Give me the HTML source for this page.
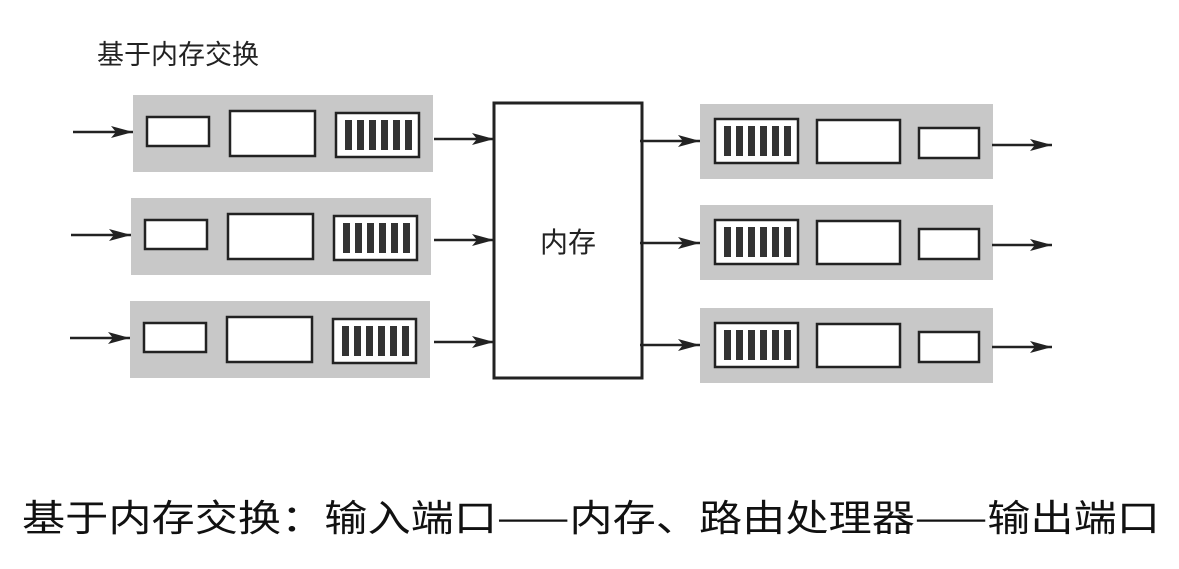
<!DOCTYPE html>
<html><head><meta charset="utf-8"><style>
body{margin:0;width:1179px;height:564px;background:#fff;overflow:hidden;font-family:"Liberation Sans","Noto Sans CJK SC",sans-serif}
</style></head><body>
<svg width="1179" height="564" viewBox="0 0 1179 564" xmlns="http://www.w3.org/2000/svg">
<defs>
<g id="q"><rect x="0" y="0" width="83" height="44" fill="#fff" stroke="#222" stroke-width="2.5"/>
<rect x="9" y="7" width="7" height="30" fill="#333"/><rect x="21" y="7" width="7" height="30" fill="#333"/><rect x="33" y="7" width="7" height="30" fill="#333"/><rect x="45" y="7" width="7" height="30" fill="#333"/><rect x="57" y="7" width="7" height="30" fill="#333"/><rect x="69" y="7" width="7" height="30" fill="#333"/></g>
<g id="L"><rect x="0" y="0" width="300" height="77" fill="#c8c8c8"/>
<rect x="14" y="22" width="62" height="29" fill="#fff" stroke="#222" stroke-width="2.5"/>
<rect x="97" y="16" width="85" height="45" fill="#fff" stroke="#222" stroke-width="2.5"/>
<use href="#q" x="203" y="18"/></g>
<g id="R"><rect x="0" y="0" width="293" height="75" fill="#c8c8c8"/>
<use href="#q" x="15" y="15"/>
<rect x="117" y="16" width="83" height="43" fill="#fff" stroke="#222" stroke-width="2.5"/>
<rect x="219" y="24" width="60" height="30" fill="#fff" stroke="#222" stroke-width="2.5"/></g>
<g id="ar"><line x1="0" y1="0" x2="-60" y2="0" stroke="#222" stroke-width="2.5"/><path d="M0,0 L-22,-6 L-17,0 L-22,6 Z" fill="#222"/></g>
</defs>
<text x="97" y="64" font-size="27" fill="#222" font-family="Noto Sans CJK SC,sans-serif">基于内存交换</text>
<use href="#L" x="133" y="95"/><use href="#L" x="131" y="198"/><use href="#L" x="130" y="301"/>
<use href="#R" x="700" y="104"/><use href="#R" x="700" y="205"/><use href="#R" x="700" y="308"/>
<rect x="494" y="103" width="148" height="275" fill="#fff" stroke="#222" stroke-width="3"/>
<text x="568" y="252" font-size="28" text-anchor="middle" fill="#222" font-family="Noto Sans CJK SC,sans-serif">内存</text>
<use href="#ar" x="133" y="132"/><use href="#ar" x="131" y="235"/><use href="#ar" x="130" y="338"/>
<use href="#ar" x="494" y="139"/><use href="#ar" x="494" y="240"/><use href="#ar" x="494" y="342"/>
<use href="#ar" x="700" y="141"/><use href="#ar" x="700" y="243"/><use href="#ar" x="700" y="345"/>
<use href="#ar" x="1052" y="145"/><use href="#ar" x="1052" y="245"/><use href="#ar" x="1052" y="347"/>
<text x="22" y="531" font-size="37" fill="#111" font-family="Noto Sans CJK SC,sans-serif" textLength="1138" lengthAdjust="spacingAndGlyphs">基于内存交换：输入端口——内存、路由处理器——输出端口</text>
</svg>
</body></html>
